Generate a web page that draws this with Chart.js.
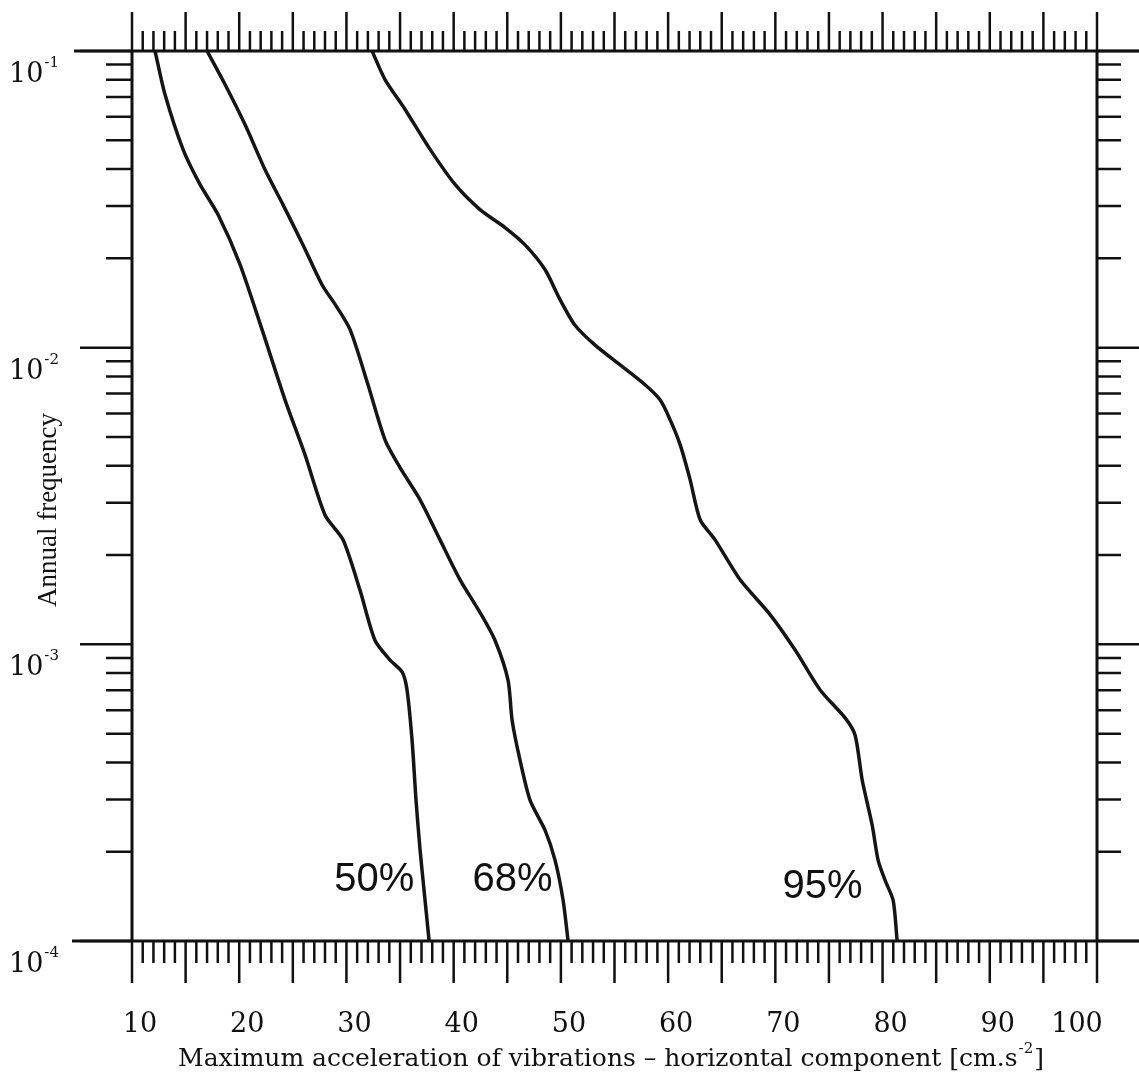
<!DOCTYPE html>
<html>
<head>
<meta charset="utf-8">
<script src="https://cdn.jsdelivr.net/npm/chart.js@4.4.1/dist/chart.umd.min.js"></script>
<style>
    html, body { margin: 0; padding: 0; background: #fff; }
    #wrap { width: 1139px; height: 1077px; }
</style>
</head>
<body>
<div id="wrap"><canvas id="hazardChart" width="1139" height="1077"></canvas></div>
<script>
// Acceleration [cm.s-2] vs annual frequency
const accel50 = [12.15, 13.08, 14.76, 16.34, 18.02, 20.07, 22.13, 24.27, 26.14, 28.00, 29.68, 31.27, 32.67, 34.07, 35.19, 35.65, 36.12, 36.49, 36.87, 37.24, 37.71];
const freq50 = [0.1, 0.0713, 0.0466, 0.0355, 0.0281, 0.0191, 0.0115, 0.00667, 0.00435, 0.00273, 0.00225, 0.00152, 0.00103, 0.000885, 0.000807, 0.000702, 0.000475, 0.000298, 0.000202, 0.000148, 0.0001];

const accel68 = [17.00, 18.68, 20.54, 22.41, 24.09, 25.95, 27.72, 28.94, 30.34, 32.01, 33.60, 35.00, 36.87, 38.73, 40.60, 42.46, 43.86, 45.07, 45.45, 46.19, 47.13, 48.53, 49.46, 50.21, 50.67];
const freq68 = [0.1, 0.0771, 0.0565, 0.0398, 0.0303, 0.0222, 0.0163, 0.0140, 0.0115, 0.00750, 0.00489, 0.00394, 0.00307, 0.00225, 0.00165, 0.00128, 0.00103, 0.000757, 0.000555, 0.000407, 0.000298, 0.000236, 0.000187, 0.000137, 0.0001];

const accel95 = [32.39, 33.60, 35.47, 37.80, 40.13, 42.46, 44.79, 46.66, 48.53, 49.93, 51.32, 53.19, 55.52, 57.85, 59.25, 60.19, 61.12, 62.05, 62.99, 64.38, 66.72, 69.51, 71.85, 74.18, 76.51, 77.44, 78.10, 79.03, 79.59, 80.24, 80.99, 81.36];
const freq95 = [0.1, 0.0801, 0.0635, 0.0466, 0.0355, 0.0292, 0.0254, 0.0222, 0.0183, 0.0145, 0.0119, 0.0102, 0.00875, 0.00750, 0.00667, 0.00571, 0.00471, 0.00359, 0.00263, 0.00225, 0.00165, 0.00126, 0.000957, 0.000702, 0.000565, 0.000494, 0.000349, 0.000246, 0.000187, 0.000160, 0.000137, 0.0001];

// curve labels: text, x (acceleration), y (frequency)
const curveLabels = ['50%', '68%', '95%'];
const curveLabelX = [32.6, 45.5, 74.4];
const curveLabelY = [0.00016, 0.00016, 0.000152];

const xTickLabels = [10, 20, 30, 40, 50, 60, 70, 80, 90, 100];
const yDecades = [-1, -2, -3, -4];

const xTitle = 'Maximum acceleration of vibrations \u2013 horizontal component [cm.s';
const yTitle = 'Annual frequency';

function toPoints(xs, ys) {
    return xs.map((x, i) => ({ x: x, y: ys[i] }));
}

// Draws the box, outward ticks, tick labels, titles and curve labels
const frameAxes = {
    id: 'frameAxes',
    afterDraw(chart) {
        const ctx = chart.ctx;
        const xs = chart.scales.x;
        const ys = chart.scales.y;
        const { left, right, top, bottom } = chart.chartArea;
        const W = chart.width;

        ctx.save();
        ctx.strokeStyle = '#111';
        ctx.fillStyle = '#111';
        ctx.lineCap = 'butt';

        // box + extended axis lines
        ctx.lineWidth = 3;
        ctx.beginPath();
        ctx.moveTo(left - 58, top); ctx.lineTo(W, top);
        ctx.moveTo(left - 60, bottom); ctx.lineTo(W, bottom);
        ctx.moveTo(left, top); ctx.lineTo(left, bottom);
        ctx.moveTo(right, top); ctx.lineTo(right, bottom);
        ctx.stroke();

        // x ticks (top up, bottom down), long every 5
        ctx.lineWidth = 2.5;
        ctx.beginPath();
        for (let v = 10; v <= 100; v++) {
            const px = xs.getPixelForValue(v);
            const major = v % 5 === 0;
            ctx.moveTo(px, bottom); ctx.lineTo(px, bottom + (major ? 42 : 22));
            ctx.moveTo(px, top); ctx.lineTo(px, top - (major ? 39 : 20));
        }
        ctx.stroke();

        // y ticks, both sides outward; decades longer
        ctx.beginPath();
        yDecades.forEach(d => {
            const py = ys.getPixelForValue(Math.pow(10, d));
            ctx.moveTo(left - 52, py); ctx.lineTo(left, py);
            ctx.moveTo(right, py); ctx.lineTo(W, py);
        });
        for (let d = -4; d < -1; d++) {
            for (let m = 2; m <= 9; m++) {
                const py = ys.getPixelForValue(m * Math.pow(10, d));
                ctx.moveTo(left - 26, py); ctx.lineTo(left, py);
                ctx.moveTo(right, py); ctx.lineTo(right + 24, py);
            }
        }
        ctx.stroke();

        // x tick labels
        ctx.font = '27px "DejaVu Serif"';
        ctx.textAlign = 'center';
        ctx.textBaseline = 'alphabetic';
        xTickLabels.forEach(v => {
            const px = xs.getPixelForValue(v);
            ctx.fillText(String(v), px + (v === 100 ? -20 : 8), bottom + 91);
        });

        // y tick labels 10^d
        yDecades.forEach(d => {
            const py = ys.getPixelForValue(Math.pow(10, d));
            ctx.textAlign = 'left';
            ctx.font = '27px "DejaVu Serif"';
            ctx.fillText('10', 9, py + 31);
            const w = ctx.measureText('10').width;
            ctx.font = '15px "DejaVu Serif"';
            ctx.fillText(String(d), 9 + w + 1, py + 16);
        });

        // x title with superscript
        ctx.font = '25px "DejaVu Serif"';
        const w1 = ctx.measureText(xTitle).width;
        ctx.font = '15px "DejaVu Serif"';
        const w2 = ctx.measureText('-2').width;
        ctx.font = '25px "DejaVu Serif"';
        const w3 = ctx.measureText(']').width;
        const tx = 610 - (w1 + w2 + w3) / 2;
        ctx.textAlign = 'left';
        ctx.fillText(xTitle, tx, 1066);
        ctx.font = '15px "DejaVu Serif"';
        ctx.fillText('-2', tx + w1 + 1, 1053);
        ctx.font = '25px "DejaVu Serif"';
        ctx.fillText(']', tx + w1 + w2 + 2, 1066);

        // y title
        ctx.save();
        ctx.translate(56, 510);
        ctx.rotate(-Math.PI / 2);
        ctx.textAlign = 'center';
        ctx.font = '27px "Liberation Serif"';
        ctx.fillText(yTitle, 0, 0);
        ctx.restore();

        // curve labels
        ctx.font = '40px "Liberation Sans"';
        ctx.textAlign = 'center';
        ctx.textBaseline = 'middle';
        curveLabels.forEach((t, i) => {
            ctx.fillText(t, xs.getPixelForValue(curveLabelX[i]), ys.getPixelForValue(curveLabelY[i]));
        });

        ctx.restore();
    }
};

const lineStyle = {
    borderColor: '#151515',
    borderWidth: 3.5,
    pointRadius: 0,
    tension: 0.25,
    fill: false
};

new Chart(document.getElementById('hazardChart').getContext('2d'), {
    type: 'line',
    data: {
        datasets: [
            Object.assign({ label: '50%', data: toPoints(accel50, freq50) }, lineStyle),
            Object.assign({ label: '68%', data: toPoints(accel68, freq68) }, lineStyle),
            Object.assign({ label: '95%', data: toPoints(accel95, freq95) }, lineStyle)
        ]
    },
    options: {
        responsive: false,
        animation: false,
        devicePixelRatio: 1,
        layout: { padding: { left: 132, top: 51, right: 42, bottom: 136 } },
        plugins: { legend: { display: false }, tooltip: { enabled: false } },
        scales: {
            x: { type: 'linear', min: 10, max: 100, display: false },
            y: { type: 'logarithmic', min: 0.0001, max: 0.1, display: false }
        }
    },
    plugins: [frameAxes]
});
</script>
</body>
</html>
